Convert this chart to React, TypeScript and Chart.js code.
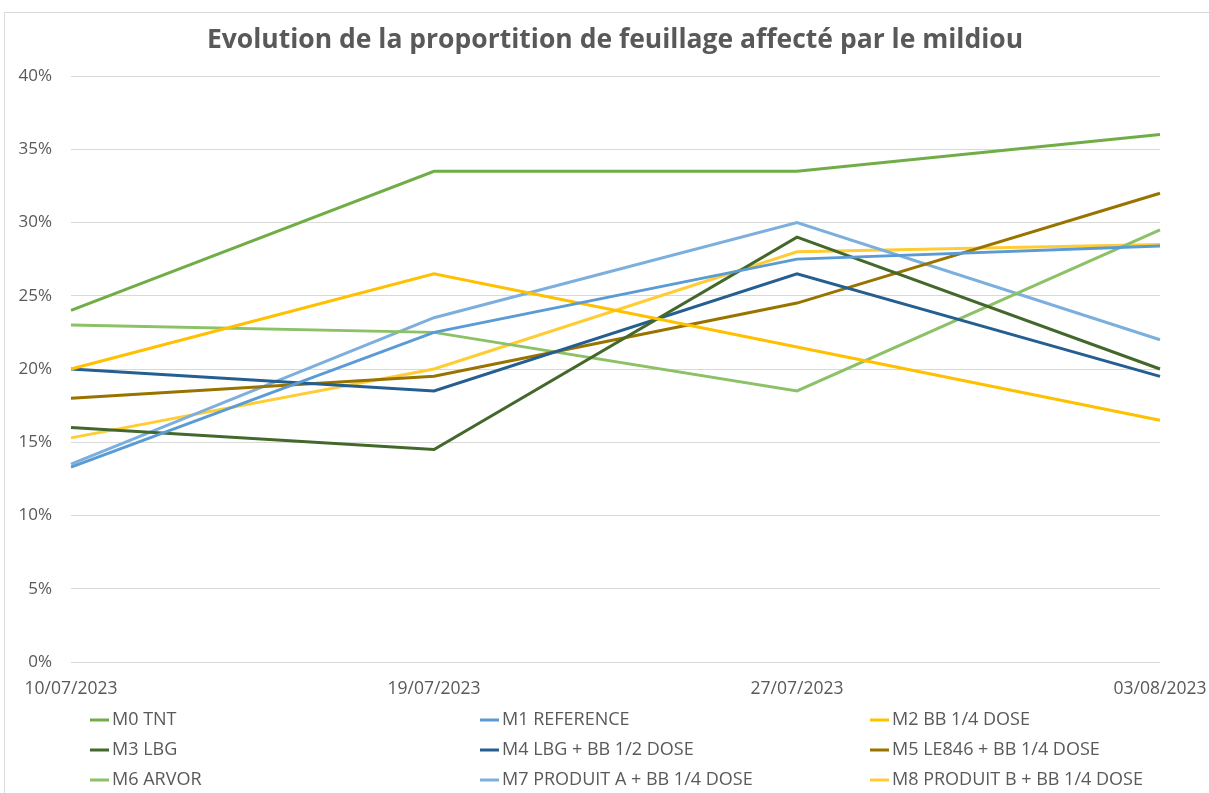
import React, { useEffect, useRef } from "react";
import { Chart, registerables } from "chart.js";

Chart.register(...registerables);

const dates = ["10/07/2023", "19/07/2023", "27/07/2023", "03/08/2023"];
const seriesNames = [
  "M0 TNT",
  "M1 REFERENCE",
  "M2 BB 1/4 DOSE",
  "M3 LBG",
  "M4 LBG + BB 1/2 DOSE",
  "M5 LE846 + BB 1/4 DOSE",
  "M6 ARVOR",
  "M7 PRODUIT A + BB 1/4 DOSE",
  "M8 PRODUIT B + BB 1/4 DOSE",
];
const m0 = [0.24, 0.335, 0.335, 0.36];
const m1 = [0.133, 0.225, 0.275, 0.284];
const m2 = [0.2, 0.265, 0.215, 0.165];
const m3 = [0.16, 0.145, 0.29, 0.2];
const m4 = [0.2, 0.185, 0.265, 0.195];
const m5 = [0.18, 0.195, 0.245, 0.32];
const m6 = [0.23, 0.225, 0.185, 0.295];
const m7 = [0.135, 0.235, 0.3, 0.22];
const m8 = [0.153, 0.2, 0.28, 0.285];
const seriesValues = [m0, m1, m2, m3, m4, m5, m6, m7, m8];
const seriesColors = [
  "#70AD47",
  "#5B9BD5",
  "#FFC000",
  "#43682B",
  "#255E91",
  "#997300",
  "#8CC168",
  "#7CAFDD",
  "#FFCD33",
];
const titleText = "Evolution de la proportition de feuillage affecté par le mildiou";

const FONT = "'Open Sans', 'Noto Sans', sans-serif";
const TEXT = "#595959";

const framePlugin = {
  id: "frame",
  beforeDraw(chart: any) {
    const ctx = chart.ctx;
    ctx.save();
    ctx.fillStyle = "#ffffff";
    ctx.fillRect(0, 0, chart.width, chart.height);
    ctx.strokeStyle = "#d9d9d9";
    ctx.lineWidth = 1;
    ctx.beginPath();
    ctx.moveTo(4.5, chart.height);
    ctx.lineTo(4.5, 12.5);
    ctx.lineTo(chart.width, 12.5);
    ctx.stroke();
    ctx.restore();
  },
};

const titlePlugin = {
  id: "customTitle",
  afterDraw(chart: any) {
    const ctx = chart.ctx;
    ctx.save();
    ctx.font = `bold 26.5px ${FONT}`;
    ctx.fillStyle = TEXT;
    ctx.textAlign = "center";
    ctx.textBaseline = "middle";
    ctx.fillText(titleText, 615, 40);
    ctx.restore();
  },
};

const legendPlugin = {
  id: "gridLegend",
  afterDraw(chart: any) {
    const ctx = chart.ctx;
    const ds = chart.data.datasets;
    ctx.save();
    ctx.font = `18px ${FONT}`;
    ctx.textBaseline = "middle";
    ctx.textAlign = "left";
    ds.forEach((d: any, i: number) => {
      const col = i % 3;
      const row = Math.floor(i / 3);
      const x = 90 + col * 390;
      const y = 720 + row * 30;
      ctx.strokeStyle = d.borderColor;
      ctx.lineWidth = 3;
      ctx.beginPath();
      ctx.moveTo(x, y);
      ctx.lineTo(x + 19, y);
      ctx.stroke();
      ctx.fillStyle = TEXT;
      ctx.fillText(d.label, x + 22, y);
    });
    ctx.restore();
  },
};

export default function App() {
  const ref = useRef<HTMLCanvasElement>(null);
  useEffect(() => {
    if (!ref.current) return;
    const chart = new Chart(ref.current, {
      type: "line",
      data: {
        labels: dates,
        datasets: seriesNames.map((name, i) => ({
          label: name,
          data: seriesValues[i],
          borderColor: seriesColors[i],
          backgroundColor: seriesColors[i],
          borderWidth: 3,
          pointRadius: 0,
          tension: 0,
          fill: false,
        })),
      },
      options: {
        animation: false,
        responsive: false,
        layout: { padding: { top: 76, left: 0, right: 49, bottom: 95 } },
        plugins: {
          legend: { display: false },
          tooltip: { enabled: false },
          title: { display: false },
        },
        scales: {
          x: {
            offset: false,
            grid: { display: false },
            border: { display: false },
            ticks: {
              color: TEXT,
              font: { family: FONT, size: 17.5 },
              padding: 9,
              maxRotation: 0,
              autoSkip: false,
            },
            afterFit(scale: any) {
              scale.height = 36;
              scale.paddingLeft = 0;
              scale.paddingRight = 0;
            },
          },
          y: {
            min: 0,
            max: 0.4,
            grid: { color: "#d9d9d9", lineWidth: 1, drawTicks: false },
            border: { display: false },
            ticks: {
              stepSize: 0.05,
              color: TEXT,
              font: { family: FONT, size: 17 },
              padding: 19,
              callback: (v: any) => `${Math.round(Number(v) * 100)}%`,
            },
            afterFit(scale: any) {
              scale.width = 71;
              scale.paddingTop = 0;
              scale.paddingBottom = 0;
            },
          },
        },
      },
      plugins: [framePlugin, titlePlugin, legendPlugin],
    });
    return () => chart.destroy();
  }, []);
  return (
    <div style={{ position: "fixed", left: 0, top: 0, width: 1209, height: 793, background: "#fff" }}>
      <canvas ref={ref} width={1209} height={793} style={{ display: "block" }} />
    </div>
  );
}
